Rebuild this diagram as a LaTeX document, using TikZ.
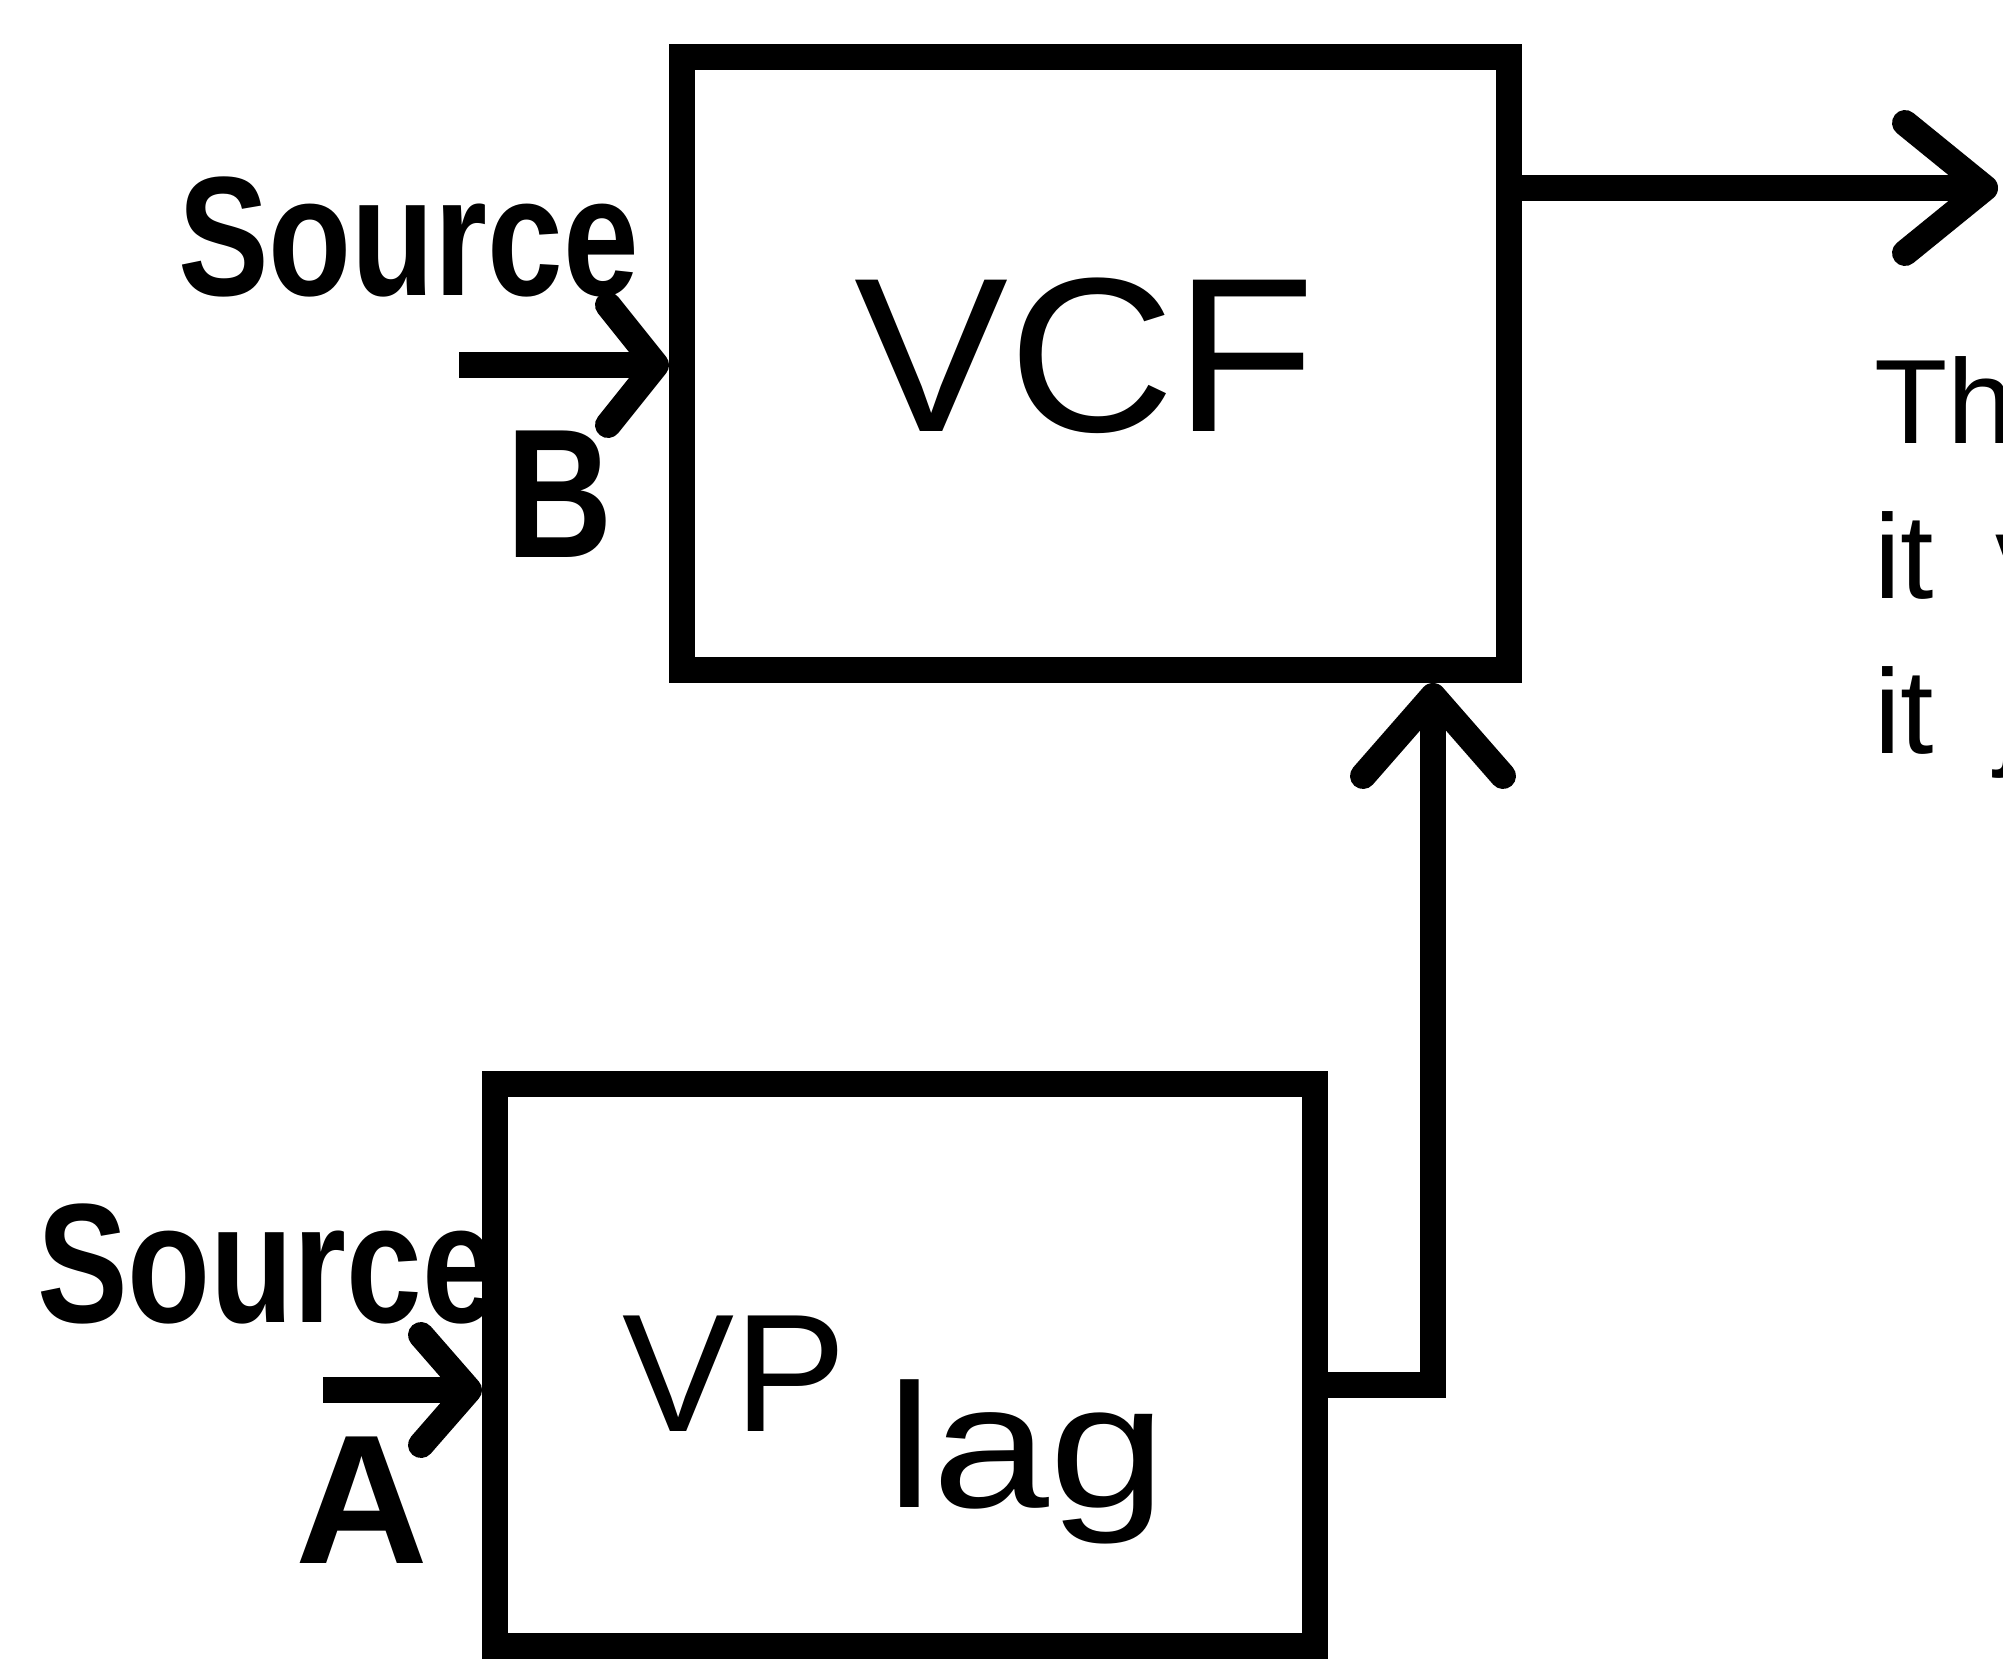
\documentclass[tikz,border=0pt]{standalone}
\usepackage{fontspec}
\setmainfont{Liberation Sans}
\usetikzlibrary{arrows.meta}
\begin{document}
\begin{tikzpicture}[x=0.5pt,y=-0.5pt,
  blockbox/.style={draw=black, fill=white, line width=13pt, rectangle, inner sep=0pt},
  conn/.style={line width=13pt, draw=black},
  hand/.style={inner sep=0pt, outer sep=0pt, font=\bfseries\fontsize{68}{80}\selectfont},
  bigtxt/.style={inner sep=0pt, outer sep=0pt},
  prose/.style={inner sep=0pt, outer sep=0pt, anchor=base west, font=\fontsize{60}{72}\selectfont}]
\useasboundingbox (0,0) rectangle (2003,1659);
\clip (0,0) rectangle (2003,1659);
\fill[white] (0,0) rectangle (2003,1659);

% handwritten labels (drawn before boxes so the boxes overlap them)
\node[hand, anchor=base west] (srcB) at (178,295) {\scalebox{1}[1.25]{Source}};
\node[hand, anchor=base, font=\bfseries\fontsize{92}{100}\selectfont] (labB) at (560,557) {\scalebox{0.8}[1]{B}};
\node[hand, anchor=base west] (srcA) at (37,1322) {\scalebox{1}[1.25]{Source}};
\node[hand, anchor=base, font=\bfseries\fontsize{92}{100}\selectfont] (labA) at (362,1563) {A};

% blocks
\node[blockbox, minimum width=413.5pt, minimum height=306.5pt] (vcf) at (1095.5,363.5) {};
\node[blockbox, minimum width=410pt, minimum height=281pt] (vp) at (905,1365) {};

\node[bigtxt, font=\fontsize{110}{120}\selectfont] (vcftxt) at (1085,356) {\scalebox{1.05}[1]{VCF}};
\node[bigtxt, anchor=base west, font=\fontsize{84}{100}\selectfont] (vptxt) at (622,1431) {VP};
\node[bigtxt, anchor=base west, font=\fontsize{84}{100}\selectfont] (lagtxt) at (886,1507) {\scalebox{1.25}[1.05]{lag}};

% connector end points
\coordinate (outend) at (1998,188);
\coordinate (bstart) at (459,365);
\coordinate (astart) at (323,1390);
\coordinate (bend) at (1433,1385);

% connectors
\draw[conn, -{Straight Barb[length=40pt,width=65pt,round]}] (vcf.east |- outend) -- (outend);
\draw[conn, -{Straight Barb[length=24pt,width=60pt,round]}] (bstart) -- (bstart -| vcf.west);
\draw[conn, -{Straight Barb[length=24pt,width=55pt,round]}] (astart) -- (astart -| vp.west);
\draw[conn, -{Straight Barb[length=40pt,width=70pt,round]}] (vp.east |- bend) -- (bend) -- (bend |- vcf.south);

% cut-off prose at the right edge
\node[prose] (l1) at (1874,443) {Th};
\node[prose] (l2) at (1874,598) {it\hspace{31pt}v};
\node[prose] (l3) at (1874,753) {it\hspace{31pt}j};
\end{tikzpicture}
\end{document}
